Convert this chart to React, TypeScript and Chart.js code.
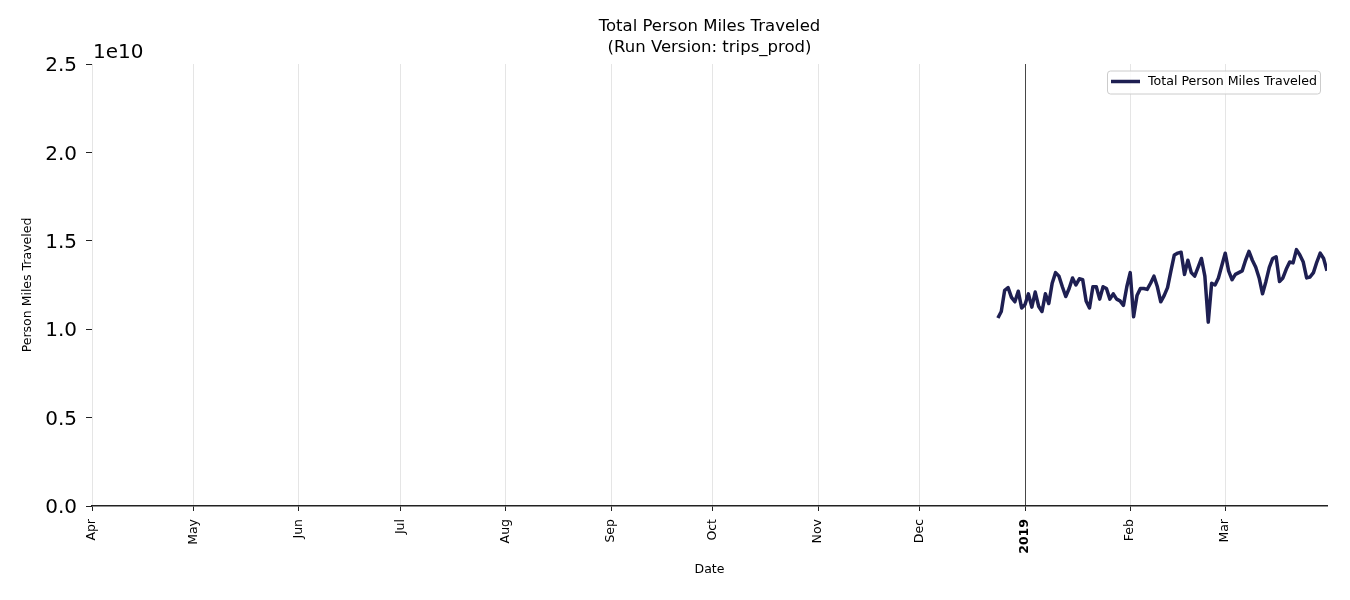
import React, { useEffect, useRef } from "react";
import { Chart, registerables } from "chart.js";

Chart.register(...registerables);

// Day offsets counted from 2018-04-01
const MONTH_TICKS = [0, 30, 61, 91, 122, 153, 183, 214, 244, 275, 306, 334];
const MONTH_LABELS = ["Apr", "May", "Jun", "Jul", "Aug", "Sep", "Oct", "Nov", "Dec", "2019", "Feb", "Mar"];
const X_MAX = 364; // 2019-03-31
const SERIES_START = 267; // 2018-12-24

// Total person miles traveled, units of 1e10, daily from 2018-12-24 to 2019-03-31
const DEC_VALUES = [1.063, 1.10, 1.22, 1.235, 1.18, 1.155, 1.215, 1.12];
const JAN_VALUES = [1.14, 1.20, 1.125, 1.21, 1.13, 1.10, 1.20, 1.145, 1.26, 1.32, 1.30, 1.24, 1.185, 1.23, 1.29, 1.25,
  1.285, 1.28, 1.16, 1.12, 1.24, 1.24, 1.17, 1.24, 1.23, 1.17, 1.20, 1.17, 1.16, 1.135, 1.24];
const FEB_VALUES = [1.32, 1.07, 1.19, 1.23, 1.23, 1.225, 1.26, 1.30, 1.24, 1.155, 1.19, 1.235, 1.33, 1.42, 1.43, 1.435,
  1.31, 1.39, 1.32, 1.30, 1.35, 1.40, 1.30, 1.04, 1.26, 1.25, 1.29, 1.36];
const MAR_VALUES = [1.43, 1.33, 1.28, 1.31, 1.32, 1.33, 1.39, 1.44, 1.39, 1.35, 1.29, 1.20, 1.27, 1.35, 1.40, 1.41,
  1.27, 1.29, 1.34, 1.38, 1.375, 1.45, 1.42, 1.38, 1.29, 1.295, 1.32, 1.38, 1.43, 1.40, 1.33];

const Y_TICKS = [0, 0.5, 1.0, 1.5, 2.0, 2.5];

const TITLE_LINES = ["Total Person Miles Traveled", "(Run Version: trips_prod)"];
const SERIES_LABEL = "Total Person Miles Traveled";
const Y_TITLE = "Person Miles Traveled";
const X_TITLE = "Date";
const OFFSET_LABEL = "1e10";

const LINE_COLOR = "#1e1f52";
const FONT = "'DejaVu Sans', sans-serif";

const decorPlugin = {
  id: "decor",
  afterDraw(chart: any) {
    const ctx = chart.ctx;
    const area = chart.chartArea;
    ctx.save();
    ctx.fillStyle = "#000";
    // title
    ctx.font = `16.5px ${FONT}`;
    ctx.textAlign = "center";
    ctx.textBaseline = "middle";
    const cx = (area.left + area.right) / 2;
    ctx.fillText(TITLE_LINES[0], cx, 26.5);
    ctx.fillText(TITLE_LINES[1], cx, 47.5);
    // offset label
    ctx.font = `20px ${FONT}`;
    ctx.textAlign = "left";
    ctx.textBaseline = "alphabetic";
    ctx.fillText(OFFSET_LABEL, area.left + 1, 58);
    // axis titles
    ctx.font = `12.5px ${FONT}`;
    ctx.textAlign = "center";
    ctx.textBaseline = "middle";
    ctx.fillText(X_TITLE, cx, 570);
    ctx.save();
    ctx.translate(28, (area.top + area.bottom) / 2);
    ctx.rotate(-Math.PI / 2);
    ctx.fillText(Y_TITLE, 0, 0);
    ctx.restore();
    // legend
    const bx = 1107.5, by = 71, bw = 213, bh = 23;
    ctx.fillStyle = "rgba(255,255,255,0.85)";
    ctx.strokeStyle = "#cccccc";
    ctx.lineWidth = 1;
    ctx.beginPath();
    if (ctx.roundRect) ctx.roundRect(bx, by, bw, bh, 3);
    else ctx.rect(bx, by, bw, bh);
    ctx.fill();
    ctx.stroke();
    ctx.strokeStyle = LINE_COLOR;
    ctx.lineWidth = 3.5;
    ctx.beginPath();
    ctx.moveTo(1111, 81.5);
    ctx.lineTo(1140, 81.5);
    ctx.stroke();
    ctx.fillStyle = "#000";
    ctx.font = `12.6px ${FONT}`;
    ctx.textAlign = "left";
    ctx.textBaseline = "middle";
    ctx.fillText(SERIES_LABEL, 1148, 82);
    ctx.restore();
  },
};

export default function App() {
  const ref = useRef<HTMLCanvasElement | null>(null);
  useEffect(() => {
    if (!ref.current) return;
    const values = [...DEC_VALUES, ...JAN_VALUES, ...FEB_VALUES, ...MAR_VALUES];
    const points = values.map((v, i) => ({ x: SERIES_START + i, y: v }));
    const chart = new Chart(ref.current, {
      type: "line",
      data: {
        datasets: [
          {
            label: SERIES_LABEL,
            data: points,
            borderColor: LINE_COLOR,
            backgroundColor: LINE_COLOR,
            borderWidth: 3.5,
            pointRadius: 0,
            tension: 0,
            fill: false,
            borderJoinStyle: "round",
            borderCapStyle: "butt",
          },
        ],
      },
      options: {
        animation: false,
        responsive: false,
        layout: { padding: { left: 0, right: 23, top: 64, bottom: 0 } },
        plugins: {
          legend: { display: false },
          title: { display: false },
          tooltip: { enabled: false },
        },
        scales: {
          x: {
            type: "linear",
            min: 0,
            max: X_MAX,
            afterFit: (s: any) => {
              s.height = 94;
            },
            afterBuildTicks: (s: any) => {
              s.ticks = MONTH_TICKS.map((v) => ({ value: v }));
            },
            ticks: {
              autoSkip: false,
              maxRotation: 90,
              minRotation: 90,
              padding: 8,
              color: "#000",
              font: (c: any) =>
                c.tick && c.tick.value === 275
                  ? { family: FONT, size: 12.5, weight: "bold" }
                  : { family: FONT, size: 12.5, weight: "normal" },
              callback: (v: any) => {
                const i = MONTH_TICKS.indexOf(Number(v));
                return i >= 0 ? MONTH_LABELS[i] : "";
              },
            },
            grid: {
              drawOnChartArea: true,
              drawTicks: true,
              tickLength: 5,
              color: (c: any) => (c.tick && c.tick.value === 275 ? "#333333" : "#e5e5e5"),
              lineWidth: (c: any) => (c.tick && c.tick.value === 275 ? 0.9 : 1),
              tickColor: "#222222",
              tickWidth: 1,
            },
            border: { display: true, color: "#222222", width: 1.5, z: 1 },
          },
          y: {
            type: "linear",
            min: 0,
            max: 2.5,
            afterFit: (s: any) => {
              s.width = 92;
            },
            afterBuildTicks: (s: any) => {
              s.ticks = Y_TICKS.map((v) => ({ value: v }));
            },
            ticks: {
              padding: 9,
              labelOffset: 2,
              color: "#000",
              font: { family: FONT, size: 20 },
              callback: (v: any) => Number(v).toFixed(1),
            },
            grid: {
              drawOnChartArea: false,
              drawTicks: true,
              tickLength: 6,
              tickColor: "#222222",
              tickWidth: 1,
            },
            border: { display: false },
          },
        },
      },
      plugins: [decorPlugin],
    });
    return () => chart.destroy();
  }, []);
  return (
    <div style={{ position: "absolute", left: 0, top: 0, width: 1350, height: 600, background: "#fff" }}>
      <canvas ref={ref} width={1350} height={600} style={{ display: "block" }} />
    </div>
  );
}
